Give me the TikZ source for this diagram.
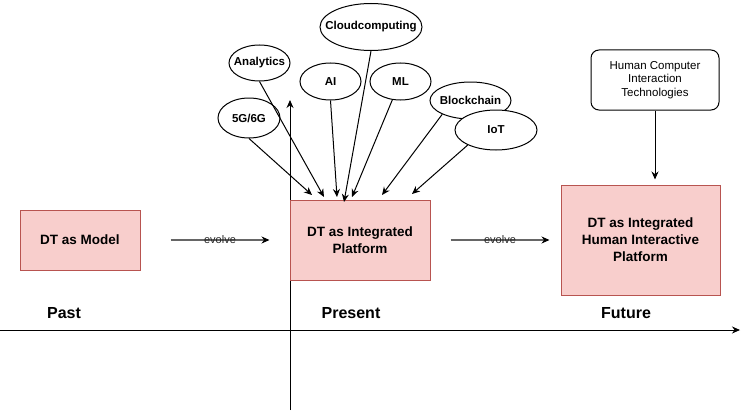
\documentclass[tikz,border=0pt]{standalone}
\usepackage{fontspec}
\setmainfont{Liberation Sans}
\usetikzlibrary{arrows.meta,shapes.geometric}
\definecolor{stagefill}{HTML}{F8CECC}
\definecolor{stageline}{HTML}{B85450}
\tikzset{
	stage/.style={draw=stageline, fill=stagefill, line width=1pt, align=center, inner sep=0pt,
		font=\bfseries\fontsize{13.5}{17}\selectfont},
	tech/.style={draw, fill=white, ellipse, line width=1pt, inner sep=0pt,
		label={[font=\bfseries\fontsize{11.5}{13}\selectfont]center:#1}},
	era/.style={font=\bfseries\fontsize{16}{19}\selectfont},
	evolve/.style={draw=black!60, line width=1.5pt, -{Stealth[black, length=8pt, width=7pt]}},
	evolvetext/.style={font=\fontsize{11}{13}\selectfont, text=black!85, inner sep=0pt}
}
\begin{document}
\begin{tikzpicture}[x=1pt, y=-1pt, line width=1pt, >={Stealth[length=8pt, width=7pt]}]
				\useasboundingbox (0,0) rectangle (749,412);

				\coordinate (TimeStart) at (0,330);
				\coordinate (TimeEnd) at (740,330);
				\draw[->] (TimeStart) -- (TimeEnd);
				\coordinate (NowBottom) at (290,410);
				\coordinate (NowTop) at (290,100);
				\draw[->] (NowBottom) -- (NowTop);

				\node (Model) [stage, minimum width=120, minimum height=60] at (80,240) {DT as Model};
				\node (Platform) [stage, minimum width=140, minimum height=80] at (360,240) {DT as Integrated\\Platform};
				\node (Human) [stage, minimum width=159, minimum height=110] at (640.5,240) {DT as Integrated\\Human Interactive\\Platform};

				\draw[evolve, shorten <=30pt, shorten >=20pt] (Model.east) -- (Platform.west);
				\node (EvolveOne) [evolvetext] at (220,240) {evolve};
				\draw[evolve, shorten <=20pt, shorten >=11pt] (Platform.east) -- (Human.west);
				\node (EvolveTwo) [evolvetext] at (500,240) {evolve};

				\node (HCI) [draw, rounded corners=8pt, minimum width=128, minimum height=60, align=center,
					font=\fontsize{11.5}{13.3}\selectfont] at (655,80) {Human Computer\\Interaction\\Technologies};
				\draw[->, shorten >=5pt] (HCI.south) -- (HCI.south |- Human.north);

				\node (Past) [era] at (64,313) {Past};
				\node (Present) [era] at (351,313) {Present};
				\node (Future) [era] at (626,313) {Future};

				\node (Cloud) [tech=Cloudcomputing, minimum width=102, minimum height=47] at (371,27) {};
				\node (Analytics) [tech=Analytics, minimum width=61, minimum height=36] at (259.5,63) {};
				\node (AI) [tech=AI, minimum width=61, minimum height=37] at (330.5,81.5) {};
				\node (ML) [tech=ML, minimum width=61, minimum height=37] at (400.5,81.5) {};
				\node (A5G) [tech=5G/6G, minimum width=62, minimum height=40] at (249,118) {};
				\node (Blockchain) [tech=Blockchain, minimum width=81, minimum height=37] at (470.5,100.5) {};
				\node (IoT) [tech=IoT, minimum width=82, minimum height=40] at (496,130) {};

				\coordinate (In5G) at (312,195);
				\draw[->] (A5G.south) -- (In5G);
				\coordinate (InAnalytics) at (324,197);
				\draw[->] (Analytics.south) -- (InAnalytics);
				\coordinate (InAI) at (337,197);
				\draw[->] (AI.south) -- (InAI);
				\coordinate (InCloud) at (344,202);
				\draw[->] (Cloud.south) -- (InCloud);
				\coordinate (InML) at (352,197);
				\draw[->] (ML.246) -- (InML);
				\coordinate (InBlockchain) at (382,195);
				\draw[->] (Blockchain.206) -- (InBlockchain);
				\coordinate (InIoT) at (412,194);
				\draw[->] (IoT.208) -- (InIoT);
			\end{tikzpicture}
\end{document}
